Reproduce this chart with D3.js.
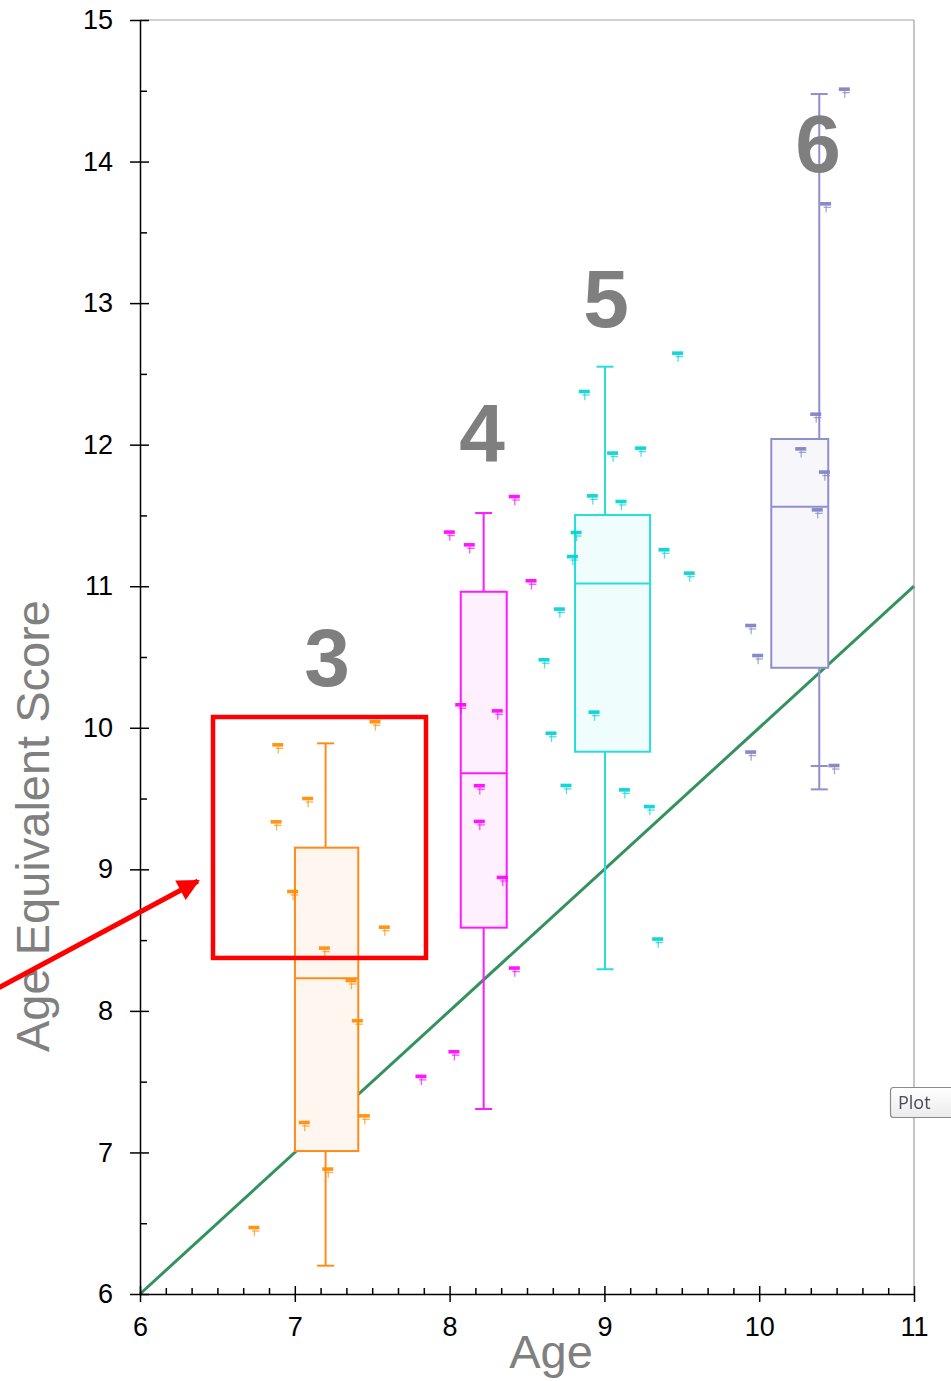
<!DOCTYPE html>
<html>
<head>
<meta charset="utf-8">
<script src="https://cdn.jsdelivr.net/npm/d3@7"></script>
<style>
  html, body { margin: 0; padding: 0; background: #ffffff; }
  svg { display: block; }
</style>
</head>
<body>
<svg id="chart" width="951" height="1381"></svg>
<script>
// ---- data -------------------------------------------------------------
const groups = ["3", "4", "5", "6"];

// box-plot summaries per group (age at which the whisker sits, box extent in age)
const whiskerAge  = [7.199, 8.220, 9.004, 10.388];
const boxAgeLow   = [7.001, 8.072, 8.810, 10.078];
const boxAgeHigh  = [7.410, 8.369, 9.295, 10.446];
const whiskerHigh = [9.890, 11.517, 12.551, 14.477];
const quartile3   = [9.153, 10.961, 11.503, 12.040];
const medians     = [8.230, 9.678, 11.020, 11.562];
const quartile1   = [7.010, 8.588, 9.831, 10.424];
const whiskerLow  = [6.200, 7.307, 8.294, 9.565];
const extraFence  = [null, null, null, 9.730];

// individual scores (age, age-equivalent score) per group
const ages3   = [7.518, 6.890, 7.083, 6.879, 6.986, 7.578, 7.191, 7.363, 7.404, 7.449, 7.061, 7.213, 6.736];
const scores3 = [10.041, 9.878, 9.499, 9.334, 8.842, 8.590, 8.442, 8.213, 7.929, 7.257, 7.210, 6.881, 6.468];

const ages4   = [8.418, 7.998, 8.127, 8.526, 8.072, 8.308, 8.192, 8.192, 8.340, 8.418, 7.815, 8.028];
const scores4 = [11.632, 11.381, 11.291, 11.037, 10.161, 10.118, 9.589, 9.337, 8.941, 8.301, 7.536, 7.710];

const ages5   = [9.473, 8.870, 9.053, 9.234, 8.922, 9.107, 8.817, 8.793, 9.385, 9.548, 8.709, 8.610, 8.933, 8.655, 8.752, 9.129, 9.290, 9.344];
const scores5 = [12.645, 12.374, 11.939, 11.974, 11.637, 11.597, 11.378, 11.208, 11.256, 11.091, 10.837, 10.479, 10.109, 9.960, 9.591, 9.560, 9.442, 8.506];

const ages6   = [10.550, 10.429, 10.365, 10.268, 10.421, 10.375, 9.945, 9.990, 9.945, 10.483];
const scores6 = [14.510, 13.700, 12.214, 11.969, 11.805, 11.538, 10.721, 10.509, 9.827, 9.732];

// age == score reference line
const refAges   = [6, 11];
const refScores = [6, 11];

// axis ticks
const xTicks = [6, 7, 8, 9, 10, 11];
const yTicks = [6, 7, 8, 9, 10, 11, 12, 13, 14, 15];

// group number labels, anchored in data units (age, score)
const labelAges   = [7.208, 8.209, 9.010, 10.380];
const labelScores = [10.295, 11.884, 12.831, 13.926];

// highlight box and arrow, in data units
const highlightAges   = [6.4716, 7.8475];
const highlightScores = [8.374, 10.076];
const arrowAges   = [5.09, 6.374];
const arrowScores = [8.165, 8.918];

// ---- styles -----------------------------------------------------------
const strokeColors = ["#ff8c1a", "#ff1aff", "#2adcdc", "#8f8fcf"];
const fillColors   = ["#fff7ef", "#fff0fd", "#f0fdfd", "#f7f7fb"];
const pointColors  = ["#ff8c00", "#ff00ff", "#00d2d2", "#7f7fc4"];

const svg = d3.select("#chart");
const x = d3.scaleLinear().domain([6, 11]).range([140, 914]);
const y = d3.scaleLinear().domain([6, 15]).range([1294, 20]);

const font = "'Liberation Sans', Arial, sans-serif";

// ---- frame ------------------------------------------------------------
svg.append("line")
  .attr("x1", x(6)).attr("x2", x(11)).attr("y1", y(15)).attr("y2", y(15))
  .attr("stroke", "#a0a0a0").attr("stroke-width", 1.2);
svg.append("line")
  .attr("x1", x(11)).attr("x2", x(11)).attr("y1", y(15)).attr("y2", y(6))
  .attr("stroke", "#a0a0a0").attr("stroke-width", 1.2);

// ---- reference line ---------------------------------------------------
svg.append("path")
  .datum(refAges.map((a, i) => [a, refScores[i]]))
  .attr("d", d3.line().x(d => x(d[0])).y(d => y(d[1])))
  .attr("stroke", "#33925e").attr("stroke-width", 3).attr("fill", "none");

// ---- box plots --------------------------------------------------------
const capHalf = 8.5;
groups.forEach((g, i) => {
  const grp = svg.append("g").attr("class", "box box-" + g);
  const c = strokeColors[i];
  const wx = x(whiskerAge[i]);
  // whiskers
  grp.append("line").attr("x1", wx).attr("x2", wx)
    .attr("y1", y(whiskerHigh[i])).attr("y2", y(quartile3[i]))
    .attr("stroke", c).attr("stroke-width", 2);
  grp.append("line").attr("x1", wx).attr("x2", wx)
    .attr("y1", y(quartile1[i])).attr("y2", y(whiskerLow[i]))
    .attr("stroke", c).attr("stroke-width", 2);
  [whiskerHigh[i], whiskerLow[i], extraFence[i]].forEach(v => {
    if (v === null) return;
    grp.append("line").attr("x1", wx - capHalf).attr("x2", wx + capHalf)
      .attr("y1", y(v)).attr("y2", y(v))
      .attr("stroke", c).attr("stroke-width", 2);
  });
  // box
  grp.append("rect")
    .attr("x", x(boxAgeLow[i])).attr("width", x(boxAgeHigh[i]) - x(boxAgeLow[i]))
    .attr("y", y(quartile3[i])).attr("height", y(quartile1[i]) - y(quartile3[i]))
    .attr("fill", fillColors[i]).attr("stroke", c).attr("stroke-width", 2);
  // median
  grp.append("line")
    .attr("x1", x(boxAgeLow[i])).attr("x2", x(boxAgeHigh[i]))
    .attr("y1", y(medians[i])).attr("y2", y(medians[i]))
    .attr("stroke", c).attr("stroke-width", 2);
});

// ---- points (small "〒"-shaped markers) ------------------------------
const allAges = [ages3, ages4, ages5, ages6];
const allScores = [scores3, scores4, scores5, scores6];
allAges.forEach((ages, i) => {
  const pts = svg.append("g").attr("class", "points-" + groups[i])
    .attr("fill", pointColors[i]).attr("stroke", pointColors[i]).attr("opacity", 0.92);
  ages.forEach((a, j) => {
    const cx = x(a), cy = y(allScores[i][j]);
    const m = pts.append("g").attr("transform", `translate(${cx},${cy})`);
    m.append("rect").attr("x", -5.5).attr("y", -2).attr("width", 11).attr("height", 3.6)
      .attr("stroke", "none");
    m.append("line").attr("x1", -2).attr("x2", 5.5).attr("y1", 3.3).attr("y2", 3.3)
      .attr("stroke-width", 1.3).attr("opacity", 0.75);
    m.append("line").attr("x1", 0.5).attr("x2", 0.5).attr("y1", 1.5).attr("y2", 8.5)
      .attr("stroke-width", 1.3).attr("opacity", 0.75);
  });
});

// ---- axes -------------------------------------------------------------
const axisStyle = sel => {
  sel.selectAll("path.domain").attr("stroke", "#000").attr("stroke-width", 1.5);
  sel.selectAll(".tick line").attr("stroke", "#000").attr("stroke-width", 1.5);
  sel.selectAll("text").attr("font-family", font).attr("font-size", 27).attr("fill", "#000");
};

const yMinor = d3.range(6.5, 15, 1);
const xMinor = d3.range(6, 11.0001, 1 / 6).filter(v => Math.abs(v - Math.round(v)) > 1e-6);

// inner minor ticks
svg.append("g").attr("transform", `translate(${x(6)},0)`)
  .call(d3.axisRight(y).tickValues(yMinor).tickSize(7).tickFormat(""))
  .call(axisStyle).call(g => g.select(".domain").remove());
svg.append("g").attr("transform", `translate(0,${y(6)})`)
  .call(d3.axisTop(x).tickValues(xMinor).tickSize(6).tickFormat(""))
  .call(axisStyle).call(g => g.select(".domain").remove());
// inner part of major ticks
svg.append("g").attr("transform", `translate(${x(6)},0)`)
  .call(d3.axisRight(y).tickValues(yTicks).tickSize(9).tickFormat(""))
  .call(axisStyle).call(g => g.select(".domain").remove());
svg.append("g").attr("transform", `translate(0,${y(6)})`)
  .call(d3.axisTop(x).tickValues(xTicks).tickSize(8).tickFormat(""))
  .call(axisStyle).call(g => g.select(".domain").remove());
// labelled axes
svg.append("g").attr("transform", `translate(${x(6)},0)`)
  .call(d3.axisLeft(y).tickValues(yTicks).tickSize(10).tickSizeOuter(0).tickPadding(17).tickFormat(d3.format("d")))
  .call(axisStyle);
svg.append("g").attr("transform", `translate(0,${y(6)})`)
  .call(d3.axisBottom(x).tickValues(xTicks).tickSize(8).tickSizeOuter(0).tickPadding(15).tickFormat(d3.format("d")))
  .call(axisStyle);

// axis titles
svg.append("text")
  .attr("x", 551).attr("y", 1368).attr("text-anchor", "middle")
  .attr("font-family", font).attr("font-size", 47).attr("fill", "#808080")
  .text("Age");
svg.append("text")
  .attr("transform", "translate(49,826) rotate(-90)").attr("text-anchor", "middle")
  .attr("font-family", font).attr("font-size", 47).attr("fill", "#808080")
  .text("Age Equivalent Score");

// ---- group labels -----------------------------------------------------
groups.forEach((g, i) => {
  svg.append("text")
    .attr("x", x(labelAges[i])).attr("y", y(labelScores[i]))
    .attr("text-anchor", "middle")
    .attr("font-family", font).attr("font-weight", "bold").attr("font-size", 82)
    .attr("fill", "#7f7f7f")
    .text(g);
});

// ---- highlight box and arrow -----------------------------------------
svg.append("rect")
  .attr("x", x(highlightAges[0])).attr("width", x(highlightAges[1]) - x(highlightAges[0]))
  .attr("y", y(highlightScores[1])).attr("height", y(highlightScores[0]) - y(highlightScores[1]))
  .attr("fill", "none").attr("stroke", "#ff0000").attr("stroke-width", 4.5);

const defs = svg.append("defs");
defs.append("marker")
  .attr("id", "arrowHead").attr("viewBox", "0 0 10 10")
  .attr("refX", 9).attr("refY", 5)
  .attr("markerWidth", 5.2).attr("markerHeight", 4.4)
  .attr("markerUnits", "strokeWidth").attr("orient", "auto")
  .append("path").attr("d", "M0,0 L10,5 L0,10 Z").attr("fill", "#ff0000");
svg.append("line")
  .attr("x1", x(arrowAges[0])).attr("y1", y(arrowScores[0]))
  .attr("x2", x(arrowAges[1])).attr("y2", y(arrowScores[1]))
  .attr("stroke", "#ff0000").attr("stroke-width", 5)
  .attr("marker-end", "url(#arrowHead)");

// ---- "Plot" button ----------------------------------------------------
const grad = defs.append("linearGradient").attr("id", "btnGrad")
  .attr("x1", 0).attr("x2", 0).attr("y1", 0).attr("y2", 1);
grad.append("stop").attr("offset", "0%").attr("stop-color", "#ffffff");
grad.append("stop").attr("offset", "100%").attr("stop-color", "#ebebeb");
svg.append("rect")
  .attr("x", 890.5).attr("y", 1087.5).attr("width", 80).attr("height", 30).attr("rx", 3)
  .attr("fill", "url(#btnGrad)").attr("stroke", "#8a8a8a").attr("stroke-width", 1.2);
svg.append("text")
  .attr("x", 898).attr("y", 1109)
  .attr("font-family", "'Open Sans', 'DejaVu Sans', sans-serif").attr("font-size", 18)
  .attr("fill", "#4a4a5e")
  .text("Plot");
</script>
</body>
</html>
